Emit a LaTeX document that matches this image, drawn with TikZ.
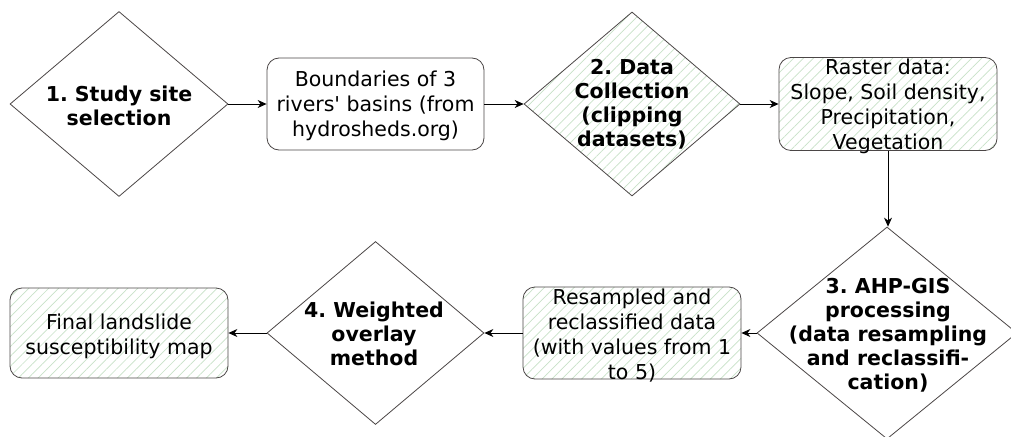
\documentclass[tikz,border=0pt]{standalone}
\usepackage{fontspec}
\setmainfont{DejaVu Sans}[Ligatures=TeXOff]
\usetikzlibrary{shapes.geometric,arrows.meta,patterns.meta}
\definecolor{edgecol}{RGB}{75,70,70}
\definecolor{hatchcol}{RGB}{200,226,200}
\frenchspacing
\begin{document}
\begin{tikzpicture}[x=1pt,y=-1pt,
  box/.style={draw=edgecol, line width=0.8pt, rounded corners=12pt, minimum width=217pt, minimum height=92pt, inner sep=0pt, fill=white},
  hatched/.style={preaction={fill=white}, pattern={Lines[angle=45,distance=7pt,line width=0.7pt]}, pattern color=hatchcol},
  dia/.style={draw=edgecol, line width=0.8pt, shape=diamond, inner sep=0pt, fill=white},
  lbl/.style={font=\fontsize{20.5}{25}\selectfont, align=center, text=black, inner sep=0pt},
  blbl/.style={font=\fontsize{20.5}{24}\selectfont\bfseries, align=center, text=black, inner sep=0pt},
  arr/.style={draw=black, line width=0.8pt, -{Stealth[length=9pt,width=8pt]}}]
\useasboundingbox (0,0) rectangle (1011,436);
% top row
\node[dia, minimum width=218pt, minimum height=185pt] (d1) at (119,104) {};
\node[blbl] (t1) at (119,106) {1. Study site\\selection};
\node[box, minimum width=217pt, minimum height=92pt] (b1) at (375.5,104) {};
\node[lbl] (tb1) at (375.5,106) {Boundaries of 3\\rivers' basins (from\\hydrosheds.org)};
\node[dia, hatched, minimum width=216pt, minimum height=184pt] (d2) at (632,104) {};
\node[blbl] (t2) at (632,104) {2. Data\\Collection\\(clipping\\datasets)};
\node[box, hatched, minimum width=218pt, minimum height=93pt] (b2) at (888,104) {};
\node[lbl] (tb2) at (888,106) {Raster data:\\Slope, Soil density,\\Precipitation,\\Vegetation};
% bottom row
\node[dia, minimum width=260pt, minimum height=212pt] (d3) at (887,333) {};
\node[blbl] (t3) at (888,335) {3. AHP-GIS\\processing\\(data resampling\\and reclassifi-\\cation)};
\node[box, hatched, minimum width=218pt, minimum height=92pt] (b3) at (632,333) {};
\node[lbl] (tb3) at (632,336) {Resampled and\\reclassified data\\(with values from 1\\to 5)};
\node[dia, minimum width=217pt, minimum height=183pt] (d4) at (375.5,333) {};
\node[blbl] (t4) at (374,334) {4. Weighted\\overlay\\method};
\node[box, hatched, minimum width=218pt, minimum height=90pt] (b4) at (119,333) {};
\node[lbl] (tb4) at (119,336) {Final landslide\\susceptibility map};
% connectors
\draw[arr] (d1.east) -- (b1.west);
\draw[arr] (b1.east) -- (d2.west);
\draw[arr] (d2.east) -- (b2.west);
\draw[arr] (b2.south) -- (b2.south |- d3.north);
\draw[arr] (d3.west) -- (b3.east);
\draw[arr] (b3.west) -- (d4.east);
\draw[arr] (d4.west) -- (b4.east);
\end{tikzpicture}
\end{document}
